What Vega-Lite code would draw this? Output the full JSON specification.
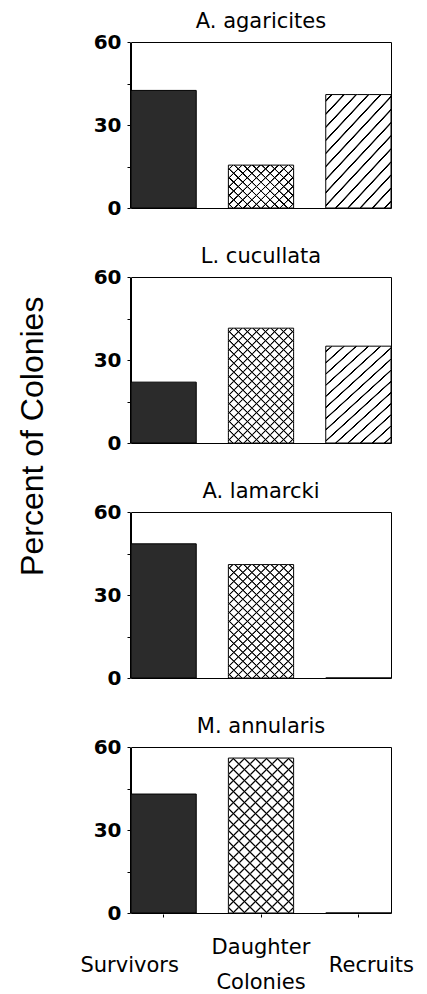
{
  "$schema": "https://vega.github.io/schema/vega-lite/v6.json",
  "padding": {"left": 16, "top": 10, "right": 2, "bottom": 2},
  "background": "white",
  "title": {"text": "Percent of Colonies", "orient": "left", "anchor": "middle", "fontSize": 32, "font": "Liberation Sans", "fontWeight": "normal", "color": "#000", "offset": 30, "dx": 65},
  "data": {"values": [
    {"species": "A. agaricites", "category": "Survivors", "percent": 42.5},
    {"species": "A. agaricites", "category": "Daughter Colonies", "percent": 15.5},
    {"species": "A. agaricites", "category": "Recruits", "percent": 41},
    {"species": "L. cucullata", "category": "Survivors", "percent": 22},
    {"species": "L. cucullata", "category": "Daughter Colonies", "percent": 41.5},
    {"species": "L. cucullata", "category": "Recruits", "percent": 35},
    {"species": "A. lamarcki", "category": "Survivors", "percent": 48.5},
    {"species": "A. lamarcki", "category": "Daughter Colonies", "percent": 41},
    {"species": "A. lamarcki", "category": "Recruits", "percent": 0},
    {"species": "M. annularis", "category": "Survivors", "percent": 43},
    {"species": "M. annularis", "category": "Daughter Colonies", "percent": 56},
    {"species": "M. annularis", "category": "Recruits", "percent": 0}
  ]},
  "facet": {"field": "species", "type": "nominal", "sort": ["A. agaricites", "L. cucullata", "A. lamarcki", "M. annularis"],
    "header": {"title": null, "labelFontSize": 21, "labelFont": "DejaVu Sans", "labelColor": "#000", "labelPadding": 10, "labelAnchor": "middle"}},
  "columns": 1,
  "spacing": 36,
  "spec": {
    "width": 260,
    "height": 166,
    "encoding": {
      "x": {"field": "category", "type": "nominal", "sort": ["Survivors", "Daughter Colonies", "Recruits"],
        "scale": {"paddingInner": 0.33, "paddingOuter": 0},
        "axis": {"title": null, "labelAngle": 0, "labelFontSize": 21, "labelFont": "DejaVu Sans", "labelColor": "#000",
          "labelBaseline": "middle", "labelLineHeight": 35, "labelOverlap": false, "labelBound": false, "labelLimit": 300,
          "labelPadding": {"expr": "datum.value === 'Daughter Colonies' ? 30 : 48"},
          "labelExpr": "datum.label == 'Daughter Colonies' ? ['Daughter', 'Colonies'] : datum.label",
          "labelOffset": {"expr": "datum.value === 'Survivors' ? -34 : datum.value === 'Recruits' ? 13 : 0"},
          "tickSize": 3, "tickColor": "#000", "domain": false}},
      "y": {"field": "percent", "type": "quantitative", "scale": {"domain": [0, 60], "nice": false},
        "axis": {"title": null, "values": [0, 15, 30, 45, 60], "labelExpr": "datum.value % 30 === 0 ? datum.label : ''",
          "labelFontSize": 20, "labelFont": "DejaVu Sans", "labelFontWeight": "bold", "labelColor": "#000", "labelPadding": 6, "tickSize": 3, "tickColor": "#000",
          "domainColor": "#000", "grid": false}}
    },
    "layer": [
      {"mark": {"type": "bar", "stroke": "#000", "strokeWidth": 1},
        "encoding": {"fill": {"field": "category", "type": "nominal", "scale": {"domain": ["Survivors", "Daughter Colonies", "Recruits"], "range": ["#2b2b2b", "#ffffff", "#ffffff"]}, "legend": null}}},
      {"transform": [{"filter": "datum.category == 'Recruits' && datum.percent > 0"}],
        "mark": {"type": "bar", "fill": {"gradient": "linear", "x1": 0, "y1": 0, "x2": 0.72, "y2": 1.17, "stops": [
          {"offset": 0.0267, "color": "rgba(255,255,255,0)"}, {"offset": 0.0317, "color": "#000"}, {"offset": 0.0397, "color": "#000"}, {"offset": 0.0447, "color": "rgba(255,255,255,0)"},
          {"offset": 0.0981, "color": "rgba(255,255,255,0)"}, {"offset": 0.1031, "color": "#000"}, {"offset": 0.1111, "color": "#000"}, {"offset": 0.1161, "color": "rgba(255,255,255,0)"},
          {"offset": 0.1696, "color": "rgba(255,255,255,0)"}, {"offset": 0.1746, "color": "#000"}, {"offset": 0.1826, "color": "#000"}, {"offset": 0.1876, "color": "rgba(255,255,255,0)"},
          {"offset": 0.241, "color": "rgba(255,255,255,0)"}, {"offset": 0.246, "color": "#000"}, {"offset": 0.254, "color": "#000"}, {"offset": 0.259, "color": "rgba(255,255,255,0)"},
          {"offset": 0.3124, "color": "rgba(255,255,255,0)"}, {"offset": 0.3174, "color": "#000"}, {"offset": 0.3254, "color": "#000"}, {"offset": 0.3304, "color": "rgba(255,255,255,0)"},
          {"offset": 0.3839, "color": "rgba(255,255,255,0)"}, {"offset": 0.3889, "color": "#000"}, {"offset": 0.3969, "color": "#000"}, {"offset": 0.4019, "color": "rgba(255,255,255,0)"},
          {"offset": 0.4553, "color": "rgba(255,255,255,0)"}, {"offset": 0.4603, "color": "#000"}, {"offset": 0.4683, "color": "#000"}, {"offset": 0.4733, "color": "rgba(255,255,255,0)"},
          {"offset": 0.5267, "color": "rgba(255,255,255,0)"}, {"offset": 0.5317, "color": "#000"}, {"offset": 0.5397, "color": "#000"}, {"offset": 0.5447, "color": "rgba(255,255,255,0)"},
          {"offset": 0.5981, "color": "rgba(255,255,255,0)"}, {"offset": 0.6031, "color": "#000"}, {"offset": 0.6111, "color": "#000"}, {"offset": 0.6161, "color": "rgba(255,255,255,0)"},
          {"offset": 0.6696, "color": "rgba(255,255,255,0)"}, {"offset": 0.6746, "color": "#000"}, {"offset": 0.6826, "color": "#000"}, {"offset": 0.6876, "color": "rgba(255,255,255,0)"},
          {"offset": 0.741, "color": "rgba(255,255,255,0)"}, {"offset": 0.746, "color": "#000"}, {"offset": 0.754, "color": "#000"}, {"offset": 0.759, "color": "rgba(255,255,255,0)"},
          {"offset": 0.8124, "color": "rgba(255,255,255,0)"}, {"offset": 0.8174, "color": "#000"}, {"offset": 0.8254, "color": "#000"}, {"offset": 0.8304, "color": "rgba(255,255,255,0)"},
          {"offset": 0.8839, "color": "rgba(255,255,255,0)"}, {"offset": 0.8889, "color": "#000"}, {"offset": 0.8969, "color": "#000"}, {"offset": 0.9019, "color": "rgba(255,255,255,0)"},
          {"offset": 0.9553, "color": "rgba(255,255,255,0)"}, {"offset": 0.9603, "color": "#000"}, {"offset": 0.9683, "color": "#000"}, {"offset": 0.9733, "color": "rgba(255,255,255,0)"}
        ]}}},
      {"transform": [{"filter": "datum.category == 'Daughter Colonies' && (datum.species == 'L. cucullata' || datum.species == 'A. lamarcki')"}],
        "mark": {"type": "bar", "fill": {"gradient": "linear", "x1": 0, "y1": 0, "x2": 0.67, "y2": 1.187, "stops": [
          {"offset": 0.016, "color": "rgba(255,255,255,0)"}, {"offset": 0.023, "color": "#000"}, {"offset": 0.027, "color": "#000"}, {"offset": 0.034, "color": "rgba(255,255,255,0)"},
          {"offset": 0.066, "color": "rgba(255,255,255,0)"}, {"offset": 0.073, "color": "#000"}, {"offset": 0.077, "color": "#000"}, {"offset": 0.084, "color": "rgba(255,255,255,0)"},
          {"offset": 0.116, "color": "rgba(255,255,255,0)"}, {"offset": 0.123, "color": "#000"}, {"offset": 0.127, "color": "#000"}, {"offset": 0.134, "color": "rgba(255,255,255,0)"},
          {"offset": 0.166, "color": "rgba(255,255,255,0)"}, {"offset": 0.173, "color": "#000"}, {"offset": 0.177, "color": "#000"}, {"offset": 0.184, "color": "rgba(255,255,255,0)"},
          {"offset": 0.216, "color": "rgba(255,255,255,0)"}, {"offset": 0.223, "color": "#000"}, {"offset": 0.227, "color": "#000"}, {"offset": 0.234, "color": "rgba(255,255,255,0)"},
          {"offset": 0.266, "color": "rgba(255,255,255,0)"}, {"offset": 0.273, "color": "#000"}, {"offset": 0.277, "color": "#000"}, {"offset": 0.284, "color": "rgba(255,255,255,0)"},
          {"offset": 0.316, "color": "rgba(255,255,255,0)"}, {"offset": 0.323, "color": "#000"}, {"offset": 0.327, "color": "#000"}, {"offset": 0.334, "color": "rgba(255,255,255,0)"},
          {"offset": 0.366, "color": "rgba(255,255,255,0)"}, {"offset": 0.373, "color": "#000"}, {"offset": 0.377, "color": "#000"}, {"offset": 0.384, "color": "rgba(255,255,255,0)"},
          {"offset": 0.416, "color": "rgba(255,255,255,0)"}, {"offset": 0.423, "color": "#000"}, {"offset": 0.427, "color": "#000"}, {"offset": 0.434, "color": "rgba(255,255,255,0)"},
          {"offset": 0.466, "color": "rgba(255,255,255,0)"}, {"offset": 0.473, "color": "#000"}, {"offset": 0.477, "color": "#000"}, {"offset": 0.484, "color": "rgba(255,255,255,0)"},
          {"offset": 0.516, "color": "rgba(255,255,255,0)"}, {"offset": 0.523, "color": "#000"}, {"offset": 0.527, "color": "#000"}, {"offset": 0.534, "color": "rgba(255,255,255,0)"},
          {"offset": 0.566, "color": "rgba(255,255,255,0)"}, {"offset": 0.573, "color": "#000"}, {"offset": 0.577, "color": "#000"}, {"offset": 0.584, "color": "rgba(255,255,255,0)"},
          {"offset": 0.616, "color": "rgba(255,255,255,0)"}, {"offset": 0.623, "color": "#000"}, {"offset": 0.627, "color": "#000"}, {"offset": 0.634, "color": "rgba(255,255,255,0)"},
          {"offset": 0.666, "color": "rgba(255,255,255,0)"}, {"offset": 0.673, "color": "#000"}, {"offset": 0.677, "color": "#000"}, {"offset": 0.684, "color": "rgba(255,255,255,0)"},
          {"offset": 0.716, "color": "rgba(255,255,255,0)"}, {"offset": 0.723, "color": "#000"}, {"offset": 0.727, "color": "#000"}, {"offset": 0.734, "color": "rgba(255,255,255,0)"},
          {"offset": 0.766, "color": "rgba(255,255,255,0)"}, {"offset": 0.773, "color": "#000"}, {"offset": 0.777, "color": "#000"}, {"offset": 0.784, "color": "rgba(255,255,255,0)"},
          {"offset": 0.816, "color": "rgba(255,255,255,0)"}, {"offset": 0.823, "color": "#000"}, {"offset": 0.827, "color": "#000"}, {"offset": 0.834, "color": "rgba(255,255,255,0)"},
          {"offset": 0.866, "color": "rgba(255,255,255,0)"}, {"offset": 0.873, "color": "#000"}, {"offset": 0.877, "color": "#000"}, {"offset": 0.884, "color": "rgba(255,255,255,0)"},
          {"offset": 0.916, "color": "rgba(255,255,255,0)"}, {"offset": 0.923, "color": "#000"}, {"offset": 0.927, "color": "#000"}, {"offset": 0.934, "color": "rgba(255,255,255,0)"},
          {"offset": 0.966, "color": "rgba(255,255,255,0)"}, {"offset": 0.973, "color": "#000"}, {"offset": 0.977, "color": "#000"}, {"offset": 0.984, "color": "rgba(255,255,255,0)"}
        ]}}},
      {"transform": [{"filter": "datum.category == 'Daughter Colonies' && (datum.species == 'L. cucullata' || datum.species == 'A. lamarcki')"}],
        "mark": {"type": "bar", "fill": {"gradient": "linear", "x1": 1, "y1": 0, "x2": 0.33, "y2": 1.187, "stops": [
          {"offset": 0.016, "color": "rgba(255,255,255,0)"}, {"offset": 0.023, "color": "#000"}, {"offset": 0.027, "color": "#000"}, {"offset": 0.034, "color": "rgba(255,255,255,0)"},
          {"offset": 0.066, "color": "rgba(255,255,255,0)"}, {"offset": 0.073, "color": "#000"}, {"offset": 0.077, "color": "#000"}, {"offset": 0.084, "color": "rgba(255,255,255,0)"},
          {"offset": 0.116, "color": "rgba(255,255,255,0)"}, {"offset": 0.123, "color": "#000"}, {"offset": 0.127, "color": "#000"}, {"offset": 0.134, "color": "rgba(255,255,255,0)"},
          {"offset": 0.166, "color": "rgba(255,255,255,0)"}, {"offset": 0.173, "color": "#000"}, {"offset": 0.177, "color": "#000"}, {"offset": 0.184, "color": "rgba(255,255,255,0)"},
          {"offset": 0.216, "color": "rgba(255,255,255,0)"}, {"offset": 0.223, "color": "#000"}, {"offset": 0.227, "color": "#000"}, {"offset": 0.234, "color": "rgba(255,255,255,0)"},
          {"offset": 0.266, "color": "rgba(255,255,255,0)"}, {"offset": 0.273, "color": "#000"}, {"offset": 0.277, "color": "#000"}, {"offset": 0.284, "color": "rgba(255,255,255,0)"},
          {"offset": 0.316, "color": "rgba(255,255,255,0)"}, {"offset": 0.323, "color": "#000"}, {"offset": 0.327, "color": "#000"}, {"offset": 0.334, "color": "rgba(255,255,255,0)"},
          {"offset": 0.366, "color": "rgba(255,255,255,0)"}, {"offset": 0.373, "color": "#000"}, {"offset": 0.377, "color": "#000"}, {"offset": 0.384, "color": "rgba(255,255,255,0)"},
          {"offset": 0.416, "color": "rgba(255,255,255,0)"}, {"offset": 0.423, "color": "#000"}, {"offset": 0.427, "color": "#000"}, {"offset": 0.434, "color": "rgba(255,255,255,0)"},
          {"offset": 0.466, "color": "rgba(255,255,255,0)"}, {"offset": 0.473, "color": "#000"}, {"offset": 0.477, "color": "#000"}, {"offset": 0.484, "color": "rgba(255,255,255,0)"},
          {"offset": 0.516, "color": "rgba(255,255,255,0)"}, {"offset": 0.523, "color": "#000"}, {"offset": 0.527, "color": "#000"}, {"offset": 0.534, "color": "rgba(255,255,255,0)"},
          {"offset": 0.566, "color": "rgba(255,255,255,0)"}, {"offset": 0.573, "color": "#000"}, {"offset": 0.577, "color": "#000"}, {"offset": 0.584, "color": "rgba(255,255,255,0)"},
          {"offset": 0.616, "color": "rgba(255,255,255,0)"}, {"offset": 0.623, "color": "#000"}, {"offset": 0.627, "color": "#000"}, {"offset": 0.634, "color": "rgba(255,255,255,0)"},
          {"offset": 0.666, "color": "rgba(255,255,255,0)"}, {"offset": 0.673, "color": "#000"}, {"offset": 0.677, "color": "#000"}, {"offset": 0.684, "color": "rgba(255,255,255,0)"},
          {"offset": 0.716, "color": "rgba(255,255,255,0)"}, {"offset": 0.723, "color": "#000"}, {"offset": 0.727, "color": "#000"}, {"offset": 0.734, "color": "rgba(255,255,255,0)"},
          {"offset": 0.766, "color": "rgba(255,255,255,0)"}, {"offset": 0.773, "color": "#000"}, {"offset": 0.777, "color": "#000"}, {"offset": 0.784, "color": "rgba(255,255,255,0)"},
          {"offset": 0.816, "color": "rgba(255,255,255,0)"}, {"offset": 0.823, "color": "#000"}, {"offset": 0.827, "color": "#000"}, {"offset": 0.834, "color": "rgba(255,255,255,0)"},
          {"offset": 0.866, "color": "rgba(255,255,255,0)"}, {"offset": 0.873, "color": "#000"}, {"offset": 0.877, "color": "#000"}, {"offset": 0.884, "color": "rgba(255,255,255,0)"},
          {"offset": 0.916, "color": "rgba(255,255,255,0)"}, {"offset": 0.923, "color": "#000"}, {"offset": 0.927, "color": "#000"}, {"offset": 0.934, "color": "rgba(255,255,255,0)"},
          {"offset": 0.966, "color": "rgba(255,255,255,0)"}, {"offset": 0.973, "color": "#000"}, {"offset": 0.977, "color": "#000"}, {"offset": 0.984, "color": "rgba(255,255,255,0)"}
        ]}}},
      {"transform": [{"filter": "datum.category == 'Daughter Colonies' && datum.species == 'M. annularis'"}],
        "mark": {"type": "bar", "fill": {"gradient": "linear", "x1": 0, "y1": 0, "x2": 0.506, "y2": 1.207, "stops": [
          {"offset": 0.016, "color": "rgba(255,255,255,0)"}, {"offset": 0.023, "color": "#000"}, {"offset": 0.027, "color": "#000"}, {"offset": 0.034, "color": "rgba(255,255,255,0)"},
          {"offset": 0.066, "color": "rgba(255,255,255,0)"}, {"offset": 0.073, "color": "#000"}, {"offset": 0.077, "color": "#000"}, {"offset": 0.084, "color": "rgba(255,255,255,0)"},
          {"offset": 0.116, "color": "rgba(255,255,255,0)"}, {"offset": 0.123, "color": "#000"}, {"offset": 0.127, "color": "#000"}, {"offset": 0.134, "color": "rgba(255,255,255,0)"},
          {"offset": 0.166, "color": "rgba(255,255,255,0)"}, {"offset": 0.173, "color": "#000"}, {"offset": 0.177, "color": "#000"}, {"offset": 0.184, "color": "rgba(255,255,255,0)"},
          {"offset": 0.216, "color": "rgba(255,255,255,0)"}, {"offset": 0.223, "color": "#000"}, {"offset": 0.227, "color": "#000"}, {"offset": 0.234, "color": "rgba(255,255,255,0)"},
          {"offset": 0.266, "color": "rgba(255,255,255,0)"}, {"offset": 0.273, "color": "#000"}, {"offset": 0.277, "color": "#000"}, {"offset": 0.284, "color": "rgba(255,255,255,0)"},
          {"offset": 0.316, "color": "rgba(255,255,255,0)"}, {"offset": 0.323, "color": "#000"}, {"offset": 0.327, "color": "#000"}, {"offset": 0.334, "color": "rgba(255,255,255,0)"},
          {"offset": 0.366, "color": "rgba(255,255,255,0)"}, {"offset": 0.373, "color": "#000"}, {"offset": 0.377, "color": "#000"}, {"offset": 0.384, "color": "rgba(255,255,255,0)"},
          {"offset": 0.416, "color": "rgba(255,255,255,0)"}, {"offset": 0.423, "color": "#000"}, {"offset": 0.427, "color": "#000"}, {"offset": 0.434, "color": "rgba(255,255,255,0)"},
          {"offset": 0.466, "color": "rgba(255,255,255,0)"}, {"offset": 0.473, "color": "#000"}, {"offset": 0.477, "color": "#000"}, {"offset": 0.484, "color": "rgba(255,255,255,0)"},
          {"offset": 0.516, "color": "rgba(255,255,255,0)"}, {"offset": 0.523, "color": "#000"}, {"offset": 0.527, "color": "#000"}, {"offset": 0.534, "color": "rgba(255,255,255,0)"},
          {"offset": 0.566, "color": "rgba(255,255,255,0)"}, {"offset": 0.573, "color": "#000"}, {"offset": 0.577, "color": "#000"}, {"offset": 0.584, "color": "rgba(255,255,255,0)"},
          {"offset": 0.616, "color": "rgba(255,255,255,0)"}, {"offset": 0.623, "color": "#000"}, {"offset": 0.627, "color": "#000"}, {"offset": 0.634, "color": "rgba(255,255,255,0)"},
          {"offset": 0.666, "color": "rgba(255,255,255,0)"}, {"offset": 0.673, "color": "#000"}, {"offset": 0.677, "color": "#000"}, {"offset": 0.684, "color": "rgba(255,255,255,0)"},
          {"offset": 0.716, "color": "rgba(255,255,255,0)"}, {"offset": 0.723, "color": "#000"}, {"offset": 0.727, "color": "#000"}, {"offset": 0.734, "color": "rgba(255,255,255,0)"},
          {"offset": 0.766, "color": "rgba(255,255,255,0)"}, {"offset": 0.773, "color": "#000"}, {"offset": 0.777, "color": "#000"}, {"offset": 0.784, "color": "rgba(255,255,255,0)"},
          {"offset": 0.816, "color": "rgba(255,255,255,0)"}, {"offset": 0.823, "color": "#000"}, {"offset": 0.827, "color": "#000"}, {"offset": 0.834, "color": "rgba(255,255,255,0)"},
          {"offset": 0.866, "color": "rgba(255,255,255,0)"}, {"offset": 0.873, "color": "#000"}, {"offset": 0.877, "color": "#000"}, {"offset": 0.884, "color": "rgba(255,255,255,0)"},
          {"offset": 0.916, "color": "rgba(255,255,255,0)"}, {"offset": 0.923, "color": "#000"}, {"offset": 0.927, "color": "#000"}, {"offset": 0.934, "color": "rgba(255,255,255,0)"},
          {"offset": 0.966, "color": "rgba(255,255,255,0)"}, {"offset": 0.973, "color": "#000"}, {"offset": 0.977, "color": "#000"}, {"offset": 0.984, "color": "rgba(255,255,255,0)"}
        ]}}},
      {"transform": [{"filter": "datum.category == 'Daughter Colonies' && datum.species == 'M. annularis'"}],
        "mark": {"type": "bar", "fill": {"gradient": "linear", "x1": 1, "y1": 0, "x2": 0.494, "y2": 1.207, "stops": [
          {"offset": 0.016, "color": "rgba(255,255,255,0)"}, {"offset": 0.023, "color": "#000"}, {"offset": 0.027, "color": "#000"}, {"offset": 0.034, "color": "rgba(255,255,255,0)"},
          {"offset": 0.066, "color": "rgba(255,255,255,0)"}, {"offset": 0.073, "color": "#000"}, {"offset": 0.077, "color": "#000"}, {"offset": 0.084, "color": "rgba(255,255,255,0)"},
          {"offset": 0.116, "color": "rgba(255,255,255,0)"}, {"offset": 0.123, "color": "#000"}, {"offset": 0.127, "color": "#000"}, {"offset": 0.134, "color": "rgba(255,255,255,0)"},
          {"offset": 0.166, "color": "rgba(255,255,255,0)"}, {"offset": 0.173, "color": "#000"}, {"offset": 0.177, "color": "#000"}, {"offset": 0.184, "color": "rgba(255,255,255,0)"},
          {"offset": 0.216, "color": "rgba(255,255,255,0)"}, {"offset": 0.223, "color": "#000"}, {"offset": 0.227, "color": "#000"}, {"offset": 0.234, "color": "rgba(255,255,255,0)"},
          {"offset": 0.266, "color": "rgba(255,255,255,0)"}, {"offset": 0.273, "color": "#000"}, {"offset": 0.277, "color": "#000"}, {"offset": 0.284, "color": "rgba(255,255,255,0)"},
          {"offset": 0.316, "color": "rgba(255,255,255,0)"}, {"offset": 0.323, "color": "#000"}, {"offset": 0.327, "color": "#000"}, {"offset": 0.334, "color": "rgba(255,255,255,0)"},
          {"offset": 0.366, "color": "rgba(255,255,255,0)"}, {"offset": 0.373, "color": "#000"}, {"offset": 0.377, "color": "#000"}, {"offset": 0.384, "color": "rgba(255,255,255,0)"},
          {"offset": 0.416, "color": "rgba(255,255,255,0)"}, {"offset": 0.423, "color": "#000"}, {"offset": 0.427, "color": "#000"}, {"offset": 0.434, "color": "rgba(255,255,255,0)"},
          {"offset": 0.466, "color": "rgba(255,255,255,0)"}, {"offset": 0.473, "color": "#000"}, {"offset": 0.477, "color": "#000"}, {"offset": 0.484, "color": "rgba(255,255,255,0)"},
          {"offset": 0.516, "color": "rgba(255,255,255,0)"}, {"offset": 0.523, "color": "#000"}, {"offset": 0.527, "color": "#000"}, {"offset": 0.534, "color": "rgba(255,255,255,0)"},
          {"offset": 0.566, "color": "rgba(255,255,255,0)"}, {"offset": 0.573, "color": "#000"}, {"offset": 0.577, "color": "#000"}, {"offset": 0.584, "color": "rgba(255,255,255,0)"},
          {"offset": 0.616, "color": "rgba(255,255,255,0)"}, {"offset": 0.623, "color": "#000"}, {"offset": 0.627, "color": "#000"}, {"offset": 0.634, "color": "rgba(255,255,255,0)"},
          {"offset": 0.666, "color": "rgba(255,255,255,0)"}, {"offset": 0.673, "color": "#000"}, {"offset": 0.677, "color": "#000"}, {"offset": 0.684, "color": "rgba(255,255,255,0)"},
          {"offset": 0.716, "color": "rgba(255,255,255,0)"}, {"offset": 0.723, "color": "#000"}, {"offset": 0.727, "color": "#000"}, {"offset": 0.734, "color": "rgba(255,255,255,0)"},
          {"offset": 0.766, "color": "rgba(255,255,255,0)"}, {"offset": 0.773, "color": "#000"}, {"offset": 0.777, "color": "#000"}, {"offset": 0.784, "color": "rgba(255,255,255,0)"},
          {"offset": 0.816, "color": "rgba(255,255,255,0)"}, {"offset": 0.823, "color": "#000"}, {"offset": 0.827, "color": "#000"}, {"offset": 0.834, "color": "rgba(255,255,255,0)"},
          {"offset": 0.866, "color": "rgba(255,255,255,0)"}, {"offset": 0.873, "color": "#000"}, {"offset": 0.877, "color": "#000"}, {"offset": 0.884, "color": "rgba(255,255,255,0)"},
          {"offset": 0.916, "color": "rgba(255,255,255,0)"}, {"offset": 0.923, "color": "#000"}, {"offset": 0.927, "color": "#000"}, {"offset": 0.934, "color": "rgba(255,255,255,0)"},
          {"offset": 0.966, "color": "rgba(255,255,255,0)"}, {"offset": 0.973, "color": "#000"}, {"offset": 0.977, "color": "#000"}, {"offset": 0.984, "color": "rgba(255,255,255,0)"}
        ]}}},
      {"transform": [{"filter": "datum.category == 'Daughter Colonies' && datum.species == 'A. agaricites'"}],
        "mark": {"type": "bar", "fill": {"gradient": "linear", "x1": 0, "y1": 0, "x2": 1.15, "y2": 0.778, "stops": [
          {"offset": 0.0307, "color": "rgba(255,255,255,0)"}, {"offset": 0.0367, "color": "#000"}, {"offset": 0.0467, "color": "#000"}, {"offset": 0.0527, "color": "rgba(255,255,255,0)"},
          {"offset": 0.114, "color": "rgba(255,255,255,0)"}, {"offset": 0.12, "color": "#000"}, {"offset": 0.13, "color": "#000"}, {"offset": 0.136, "color": "rgba(255,255,255,0)"},
          {"offset": 0.1973, "color": "rgba(255,255,255,0)"}, {"offset": 0.2033, "color": "#000"}, {"offset": 0.2133, "color": "#000"}, {"offset": 0.2193, "color": "rgba(255,255,255,0)"},
          {"offset": 0.2807, "color": "rgba(255,255,255,0)"}, {"offset": 0.2867, "color": "#000"}, {"offset": 0.2967, "color": "#000"}, {"offset": 0.3027, "color": "rgba(255,255,255,0)"},
          {"offset": 0.364, "color": "rgba(255,255,255,0)"}, {"offset": 0.37, "color": "#000"}, {"offset": 0.38, "color": "#000"}, {"offset": 0.386, "color": "rgba(255,255,255,0)"},
          {"offset": 0.4473, "color": "rgba(255,255,255,0)"}, {"offset": 0.4533, "color": "#000"}, {"offset": 0.4633, "color": "#000"}, {"offset": 0.4693, "color": "rgba(255,255,255,0)"},
          {"offset": 0.5307, "color": "rgba(255,255,255,0)"}, {"offset": 0.5367, "color": "#000"}, {"offset": 0.5467, "color": "#000"}, {"offset": 0.5527, "color": "rgba(255,255,255,0)"},
          {"offset": 0.614, "color": "rgba(255,255,255,0)"}, {"offset": 0.62, "color": "#000"}, {"offset": 0.63, "color": "#000"}, {"offset": 0.636, "color": "rgba(255,255,255,0)"},
          {"offset": 0.6973, "color": "rgba(255,255,255,0)"}, {"offset": 0.7033, "color": "#000"}, {"offset": 0.7133, "color": "#000"}, {"offset": 0.7193, "color": "rgba(255,255,255,0)"},
          {"offset": 0.7807, "color": "rgba(255,255,255,0)"}, {"offset": 0.7867, "color": "#000"}, {"offset": 0.7967, "color": "#000"}, {"offset": 0.8027, "color": "rgba(255,255,255,0)"},
          {"offset": 0.864, "color": "rgba(255,255,255,0)"}, {"offset": 0.87, "color": "#000"}, {"offset": 0.88, "color": "#000"}, {"offset": 0.886, "color": "rgba(255,255,255,0)"},
          {"offset": 0.9473, "color": "rgba(255,255,255,0)"}, {"offset": 0.9533, "color": "#000"}, {"offset": 0.9633, "color": "#000"}, {"offset": 0.9693, "color": "rgba(255,255,255,0)"}
        ]}}},
      {"transform": [{"filter": "datum.category == 'Daughter Colonies' && datum.species == 'A. agaricites'"}],
        "mark": {"type": "bar", "fill": {"gradient": "linear", "x1": 1, "y1": 0, "x2": -0.15, "y2": 0.778, "stops": [
          {"offset": 0.0307, "color": "rgba(255,255,255,0)"}, {"offset": 0.0367, "color": "#000"}, {"offset": 0.0467, "color": "#000"}, {"offset": 0.0527, "color": "rgba(255,255,255,0)"},
          {"offset": 0.114, "color": "rgba(255,255,255,0)"}, {"offset": 0.12, "color": "#000"}, {"offset": 0.13, "color": "#000"}, {"offset": 0.136, "color": "rgba(255,255,255,0)"},
          {"offset": 0.1973, "color": "rgba(255,255,255,0)"}, {"offset": 0.2033, "color": "#000"}, {"offset": 0.2133, "color": "#000"}, {"offset": 0.2193, "color": "rgba(255,255,255,0)"},
          {"offset": 0.2807, "color": "rgba(255,255,255,0)"}, {"offset": 0.2867, "color": "#000"}, {"offset": 0.2967, "color": "#000"}, {"offset": 0.3027, "color": "rgba(255,255,255,0)"},
          {"offset": 0.364, "color": "rgba(255,255,255,0)"}, {"offset": 0.37, "color": "#000"}, {"offset": 0.38, "color": "#000"}, {"offset": 0.386, "color": "rgba(255,255,255,0)"},
          {"offset": 0.4473, "color": "rgba(255,255,255,0)"}, {"offset": 0.4533, "color": "#000"}, {"offset": 0.4633, "color": "#000"}, {"offset": 0.4693, "color": "rgba(255,255,255,0)"},
          {"offset": 0.5307, "color": "rgba(255,255,255,0)"}, {"offset": 0.5367, "color": "#000"}, {"offset": 0.5467, "color": "#000"}, {"offset": 0.5527, "color": "rgba(255,255,255,0)"},
          {"offset": 0.614, "color": "rgba(255,255,255,0)"}, {"offset": 0.62, "color": "#000"}, {"offset": 0.63, "color": "#000"}, {"offset": 0.636, "color": "rgba(255,255,255,0)"},
          {"offset": 0.6973, "color": "rgba(255,255,255,0)"}, {"offset": 0.7033, "color": "#000"}, {"offset": 0.7133, "color": "#000"}, {"offset": 0.7193, "color": "rgba(255,255,255,0)"},
          {"offset": 0.7807, "color": "rgba(255,255,255,0)"}, {"offset": 0.7867, "color": "#000"}, {"offset": 0.7967, "color": "#000"}, {"offset": 0.8027, "color": "rgba(255,255,255,0)"},
          {"offset": 0.864, "color": "rgba(255,255,255,0)"}, {"offset": 0.87, "color": "#000"}, {"offset": 0.88, "color": "#000"}, {"offset": 0.886, "color": "rgba(255,255,255,0)"},
          {"offset": 0.9473, "color": "rgba(255,255,255,0)"}, {"offset": 0.9533, "color": "#000"}, {"offset": 0.9633, "color": "#000"}, {"offset": 0.9693, "color": "rgba(255,255,255,0)"}
        ]}}}
    ]
  },
  "config": {
    "view": {"stroke": "#000", "strokeWidth": 1},
    "font": "Liberation Sans"
  }
}
